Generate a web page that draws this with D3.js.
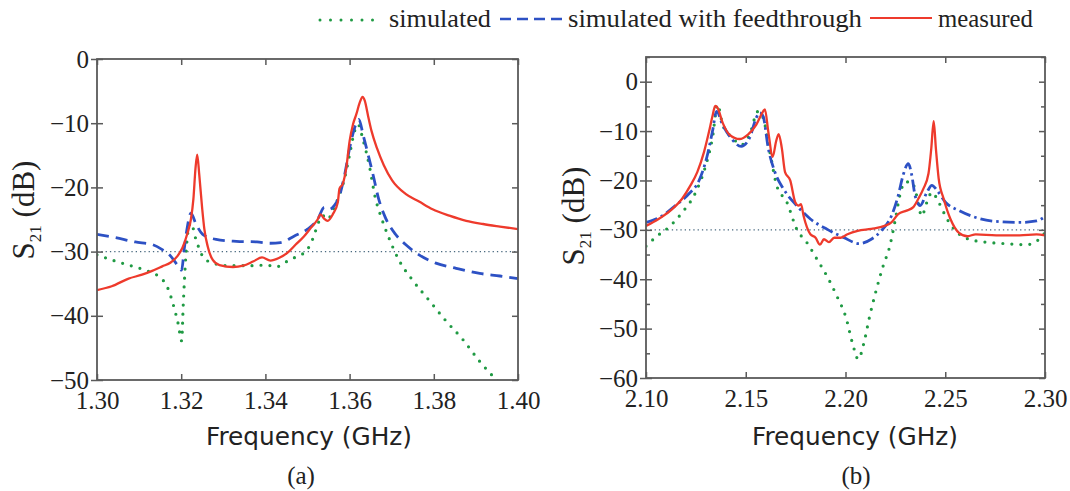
<!DOCTYPE html>
<html><head><meta charset="utf-8">
<script src="https://cdn.jsdelivr.net/npm/d3@7"></script>
<style>
html,body{margin:0;padding:0;background:#fff;}
svg{display:block;}
</style></head>
<body>
<svg id="chart" width="1070" height="491"></svg>
<script>
// ---------- DATA ----------
const legendLabels = ["simulated", "simulated with feedthrough", "measured"];
const panelLabels = ["(a)", "(b)"];
const xTicksA = [1.30, 1.32, 1.34, 1.36, 1.38, 1.40];
const yTicksA = [0, -10, -20, -30, -40, -50];
const xTicksB = [2.10, 2.15, 2.20, 2.25, 2.30];
const yTicksB = [0, -10, -20, -30, -40, -50, -60];
const yMinorB = [5, -5, -15, -25, -35, -45, -55];
const refLevel = -30;

// panel (a): [frequency GHz, S21 dB]
const aMeasured = [[1.300,-36.0],[1.3035,-35.4],[1.3075,-34.2],[1.3107,-33.6],[1.3131,-33.0],[1.3155,-32.3],[1.3175,-31.7],[1.3191,-30.7],[1.3203,-29.4],[1.3215,-27.1],[1.3223,-25.0],[1.3229,-21.8],[1.3234,-17.0],[1.3238,-14.9],[1.3243,-18.1],[1.3250,-23.4],[1.3255,-26.5],[1.3263,-29.2],[1.3275,-31.3],[1.3291,-32.1],[1.3323,-32.4],[1.3347,-32.2],[1.3372,-31.5],[1.3392,-30.9],[1.3412,-31.4],[1.3432,-31.0],[1.3452,-30.2],[1.3472,-28.9],[1.3492,-27.6],[1.3508,-26.3],[1.3524,-25.0],[1.3531,-24.2],[1.3540,-24.9],[1.3548,-25.2],[1.3560,-24.2],[1.3572,-22.3],[1.3576,-20.2],[1.3584,-19.4],[1.3592,-17.0],[1.3600,-12.8],[1.3608,-10.2],[1.3616,-8.6],[1.3624,-6.8],[1.3631,-5.9],[1.3636,-6.5],[1.3644,-8.9],[1.3652,-11.2],[1.3665,-13.9],[1.3681,-16.5],[1.3701,-18.9],[1.3733,-21.0],[1.3765,-22.2],[1.3797,-23.4],[1.3837,-24.4],[1.3877,-25.2],[1.3917,-25.7],[1.3957,-26.1],[1.4000,-26.5]];
const aFeed = [[1.300,-27.3],[1.3043,-27.8],[1.3091,-28.5],[1.3131,-28.9],[1.3155,-29.7],[1.3175,-30.7],[1.3191,-32.1],[1.3201,-32.9],[1.3207,-29.7],[1.3215,-26.0],[1.3223,-24.0],[1.3235,-25.7],[1.3251,-27.3],[1.3283,-28.1],[1.3331,-28.4],[1.3380,-28.5],[1.3412,-28.7],[1.3436,-28.6],[1.3468,-27.6],[1.3500,-26.5],[1.3524,-25.0],[1.3540,-23.1],[1.3552,-23.4],[1.3564,-22.8],[1.3576,-21.3],[1.3588,-18.1],[1.3600,-13.9],[1.3612,-10.7],[1.3622,-9.4],[1.3632,-11.8],[1.3644,-14.9],[1.3656,-18.1],[1.3669,-21.8],[1.3685,-24.7],[1.3709,-27.3],[1.3733,-28.9],[1.3765,-30.5],[1.3805,-31.8],[1.3853,-32.6],[1.3909,-33.4],[1.3957,-33.8],[1.4000,-34.2]];
const aSim = [[1.300,-30.5],[1.3035,-31.3],[1.3075,-32.1],[1.3115,-32.9],[1.3147,-33.9],[1.3167,-35.5],[1.3183,-38.7],[1.3193,-41.3],[1.3201,-43.9],[1.3205,-38.1],[1.3211,-30.7],[1.3217,-26.5],[1.3223,-25.5],[1.3235,-28.1],[1.3251,-30.7],[1.3275,-31.8],[1.3315,-32.2],[1.3364,-32.2],[1.3404,-32.1],[1.3424,-32.4],[1.3452,-31.5],[1.3476,-30.7],[1.3496,-30.0],[1.3512,-28.1],[1.3528,-25.2],[1.3536,-24.4],[1.3548,-25.0],[1.3560,-23.6],[1.3572,-21.8],[1.3588,-18.6],[1.3600,-14.9],[1.3612,-11.2],[1.3620,-10.2],[1.3632,-12.6],[1.3648,-17.0],[1.3660,-21.3],[1.3677,-25.0],[1.3693,-27.8],[1.3717,-31.3],[1.3749,-34.4],[1.3789,-37.6],[1.3829,-40.8],[1.3869,-43.7],[1.3909,-47.1],[1.3949,-50.0],[1.4000,-53.2]];

// panel (b)
const bMeasured = [[2.1000,-29.2],[2.1063,-27.8],[2.1122,-26.1],[2.1181,-23.7],[2.1223,-21.0],[2.1257,-18.3],[2.1291,-14.2],[2.1316,-10.1],[2.1333,-7.0],[2.1347,-4.9],[2.1359,-5.3],[2.1384,-8.3],[2.1418,-10.7],[2.1469,-11.6],[2.1511,-10.7],[2.1553,-8.7],[2.1579,-6.6],[2.1596,-5.6],[2.1613,-10.1],[2.1635,-15.2],[2.1652,-12.1],[2.1665,-10.6],[2.1681,-13.5],[2.1697,-18.3],[2.1723,-20.0],[2.1748,-24.4],[2.1765,-25.1],[2.1777,-24.8],[2.1790,-27.2],[2.1807,-29.5],[2.1824,-30.9],[2.1850,-31.6],[2.1872,-33.0],[2.1892,-31.9],[2.1917,-32.5],[2.1943,-31.6],[2.1976,-31.6],[2.2010,-30.9],[2.2061,-30.2],[2.2129,-29.8],[2.2196,-29.2],[2.2230,-28.5],[2.2264,-26.8],[2.2306,-26.1],[2.2340,-25.4],[2.2365,-23.7],[2.2390,-21.7],[2.2416,-18.6],[2.2430,-13.5],[2.2442,-8.0],[2.2453,-13.5],[2.2467,-19.6],[2.2492,-23.7],[2.2526,-27.8],[2.2569,-30.6],[2.2611,-31.3],[2.2653,-30.9],[2.2755,-31.1],[2.2873,-31.1],[2.2958,-30.9],[2.3000,-31.1]];
const bFeed = [[2.1000,-28.5],[2.1080,-27.2],[2.1147,-25.1],[2.1215,-22.7],[2.1266,-20.0],[2.1308,-14.8],[2.1333,-10.1],[2.1354,-6.0],[2.1384,-8.7],[2.1426,-11.4],[2.1477,-13.1],[2.1519,-11.4],[2.1553,-7.3],[2.1570,-6.3],[2.1587,-7.0],[2.1613,-13.5],[2.1646,-18.3],[2.1689,-21.7],[2.1756,-25.1],[2.1824,-27.8],[2.1909,-29.9],[2.1993,-31.6],[2.2069,-32.8],[2.2129,-31.9],[2.2179,-30.2],[2.2230,-27.2],[2.2264,-23.1],[2.2289,-18.9],[2.2315,-16.6],[2.2332,-18.9],[2.2349,-23.1],[2.2374,-25.1],[2.2408,-22.4],[2.2433,-21.0],[2.2459,-22.0],[2.2501,-24.4],[2.2569,-26.1],[2.2653,-27.5],[2.2755,-28.3],[2.2873,-28.5],[2.2958,-28.2],[2.3000,-27.3]];
const bSim = [[2.1000,-33.3],[2.1054,-31.3],[2.1113,-29.5],[2.1181,-26.5],[2.1249,-22.4],[2.1300,-16.9],[2.1333,-11.4],[2.1359,-4.6],[2.1384,-8.7],[2.1435,-11.4],[2.1477,-12.8],[2.1519,-10.7],[2.1562,-6.0],[2.1587,-7.3],[2.1621,-14.2],[2.1655,-21.0],[2.1706,-24.4],[2.1756,-29.9],[2.1807,-32.6],[2.1858,-36.0],[2.1909,-39.5],[2.1959,-43.6],[2.2002,-47.7],[2.2036,-53.1],[2.2064,-56.2],[2.2091,-53.1],[2.2120,-47.7],[2.2154,-42.2],[2.2188,-37.4],[2.2222,-33.3],[2.2247,-28.5],[2.2272,-23.1],[2.2298,-20.3],[2.2332,-20.3],[2.2357,-23.1],[2.2382,-27.2],[2.2408,-24.4],[2.2433,-22.4],[2.2467,-24.4],[2.2509,-27.8],[2.2552,-30.2],[2.2619,-31.9],[2.2704,-32.5],[2.2805,-32.8],[2.2907,-33.0],[2.2958,-32.3],[2.3000,-30.6]];

// ---------- STYLE ----------
const C_RED = "#ee3a2c", C_BLUE = "#2d51c4", C_GREEN = "#1f9a43", C_AXIS = "#5a5a5a", C_TEXT = "#222";
const SERIF = '"Liberation Serif"';
const SANS = '"DejaVu Sans"';

const svg = d3.select("#chart");

function drawPanel(cfg) {
  const x = d3.scaleLinear().domain(cfg.xDom).range([cfg.left, cfg.right]);
  const y = d3.scaleLinear().domain(cfg.yDom).range([cfg.bottom, cfg.top]);
  const g = svg.append("g");
  const clipId = "clip" + cfg.id;
  svg.append("clipPath").attr("id", clipId).append("rect")
    .attr("x", cfg.left).attr("y", cfg.top)
    .attr("width", cfg.right - cfg.left).attr("height", cfg.bottom - cfg.top);

  g.append("line").attr("x1", cfg.left).attr("x2", cfg.right)
    .attr("y1", y(refLevel)).attr("y2", y(refLevel))
    .attr("stroke", "#4a6a80").attr("stroke-width", 1.3)
    .attr("stroke-dasharray", "1.3 3");

  const line = d3.line().x(d => x(d[0])).y(d => y(d[1])).curve(d3.curveMonotoneX);
  const cg = g.append("g").attr("clip-path", `url(#${clipId})`);
  cg.append("path").datum(cfg.sim).attr("d", line).attr("fill", "none")
    .attr("stroke", C_GREEN).attr("stroke-width", 3.2).attr("stroke-linecap", "round")
    .attr("stroke-dasharray", "0 9");
  cg.append("path").datum(cfg.feed).attr("d", line).attr("fill", "none")
    .attr("stroke", C_BLUE).attr("stroke-width", 2.8)
    .attr("stroke-dasharray", cfg.feedDash);
  cg.append("path").datum(cfg.meas).attr("d", line).attr("fill", "none")
    .attr("stroke", C_RED).attr("stroke-width", 2.3).attr("stroke-linejoin", "round");

  const tl = 6, mtl = 4;
  const fmtX = d3.format(".2f");
  const bottomAx = d3.axisBottom(x).tickValues(cfg.xTicks).tickSize(-tl).tickPadding(tl + 5).tickFormat(fmtX);
  const topAx = d3.axisTop(x).tickValues(cfg.xTicks).tickSize(-tl).tickFormat("");
  const leftAx = d3.axisLeft(y).tickValues(cfg.yTicks).tickSizeInner(tl).tickSizeOuter(0).tickPadding(2).tickFormat(d3.format("d"));
  const rightAx = d3.axisRight(y).tickValues(cfg.yTicks).tickSize(-tl).tickFormat("");

  const gb = g.append("g").attr("transform", `translate(0,${cfg.bottom})`).call(bottomAx);
  const gt = g.append("g").attr("transform", `translate(0,${cfg.top})`).call(topAx);
  const gl = g.append("g").attr("transform", `translate(${cfg.left},0)`).call(leftAx);
  const gr = g.append("g").attr("transform", `translate(${cfg.right},0)`).call(rightAx);
  gl.selectAll(".tick line").attr("x1", tl);
  if (cfg.yMinor) {
    const lm = d3.axisLeft(y).tickValues(cfg.yMinor).tickSize(-mtl).tickFormat("");
    const rm = d3.axisRight(y).tickValues(cfg.yMinor).tickSize(-mtl).tickFormat("");
    const glm = g.append("g").attr("transform", `translate(${cfg.left},0)`).call(lm);
    const grm = g.append("g").attr("transform", `translate(${cfg.right},0)`).call(rm);
    [glm, grm].forEach(a => a.select(".domain").remove());
  }
  [gb, gt, gl, gr].forEach(a => a.select(".domain").remove());
  g.selectAll("g").attr("font-family", null).attr("font-size", null);
  g.selectAll(".tick line").attr("stroke", C_AXIS).attr("stroke-width", 1.5);
  g.selectAll(".tick text").style("font-family", SERIF).attr("fill", C_TEXT).style("font-size", "25px");
  gb.selectAll(".tick text").attr("dy", "0.71em");

  g.append("rect").attr("x", cfg.left).attr("y", cfg.top)
    .attr("width", cfg.right - cfg.left).attr("height", cfg.bottom - cfg.top)
    .attr("fill", "none").attr("stroke", C_AXIS).attr("stroke-width", 1.8);

  svg.append("text").style("font-family", SANS).attr("x", cfg.xLabelX).attr("y", 445)
    .style("font-size", "25px").attr("fill", C_TEXT)
    .attr("textLength", 206).attr("lengthAdjust", "spacingAndGlyphs")
    .text("Frequency (GHz)");
  svg.append("text").style("font-family", SERIF).attr("x", cfg.panelX).attr("y", 484).attr("text-anchor", "middle")
    .style("font-size", "25px").attr("fill", C_TEXT)
    .text(cfg.panelLabel);
  const yl = svg.append("text").style("font-family", SERIF)
    .attr("transform", `translate(${cfg.yLabelX},${cfg.yLabelY}) rotate(-90)`)
    .attr("text-anchor", "middle").style("font-size", "31px").attr("fill", C_TEXT);
  yl.append("tspan").text("S");
  yl.append("tspan").style("font-size", "17px").attr("dy", 7).text("21");
  yl.append("tspan").attr("dy", -7).text(" (dB)");
}

drawPanel({id: "A", xDom: [1.30, 1.40], yDom: [-50, 0], left: 97, right: 518, top: 59, bottom: 380,
  xTicks: xTicksA, yTicks: yTicksA, yMinor: null, sim: aSim, feed: aFeed, meas: aMeasured,
  feedDash: "12 7", xLabelX: 206, panelX: 301, panelLabel: panelLabels[0], yLabelX: 34, yLabelY: 210});
drawPanel({id: "B", xDom: [2.10, 2.30], yDom: [-60, 5], left: 646, right: 1045, top: 57, bottom: 378,
  xTicks: xTicksB, yTicks: yTicksB, yMinor: yMinorB, sim: bSim, feed: bFeed, meas: bMeasured,
  feedDash: "12 4 2.5 4", xLabelX: 752, panelX: 856, panelLabel: panelLabels[1], yLabelX: 584, yLabelY: 216});

// ---------- LEGEND ----------
const lg = svg.append("g");
const legItems = [
  {x1: 320, x2: 381, color: C_GREEN, dash: "0 10.5", w: 3, cap: "round", tx: 389, tl: 102, label: legendLabels[0], ly: 20},
  {x1: 500, x2: 563, color: C_BLUE, dash: "11 6", w: 2.6, cap: "butt", tx: 568, tl: 294, label: legendLabels[1], ly: 19},
  {x1: 870, x2: 932, color: C_RED, dash: null, w: 2.2, cap: "butt", tx: 938, tl: 95, label: legendLabels[2], ly: 18}
];
legItems.forEach(it => {
  lg.append("line").attr("x1", it.x1).attr("x2", it.x2).attr("y1", it.ly).attr("y2", it.ly)
    .attr("stroke", it.color).attr("stroke-width", it.w).attr("stroke-linecap", it.cap)
    .attr("stroke-dasharray", it.dash);
  lg.append("text").style("font-family", SERIF).attr("x", it.tx).attr("y", 27).style("font-size", "25px")
    .attr("fill", C_TEXT).attr("textLength", it.tl).attr("lengthAdjust", "spacingAndGlyphs").text(it.label);
});
</script>
</body></html>
